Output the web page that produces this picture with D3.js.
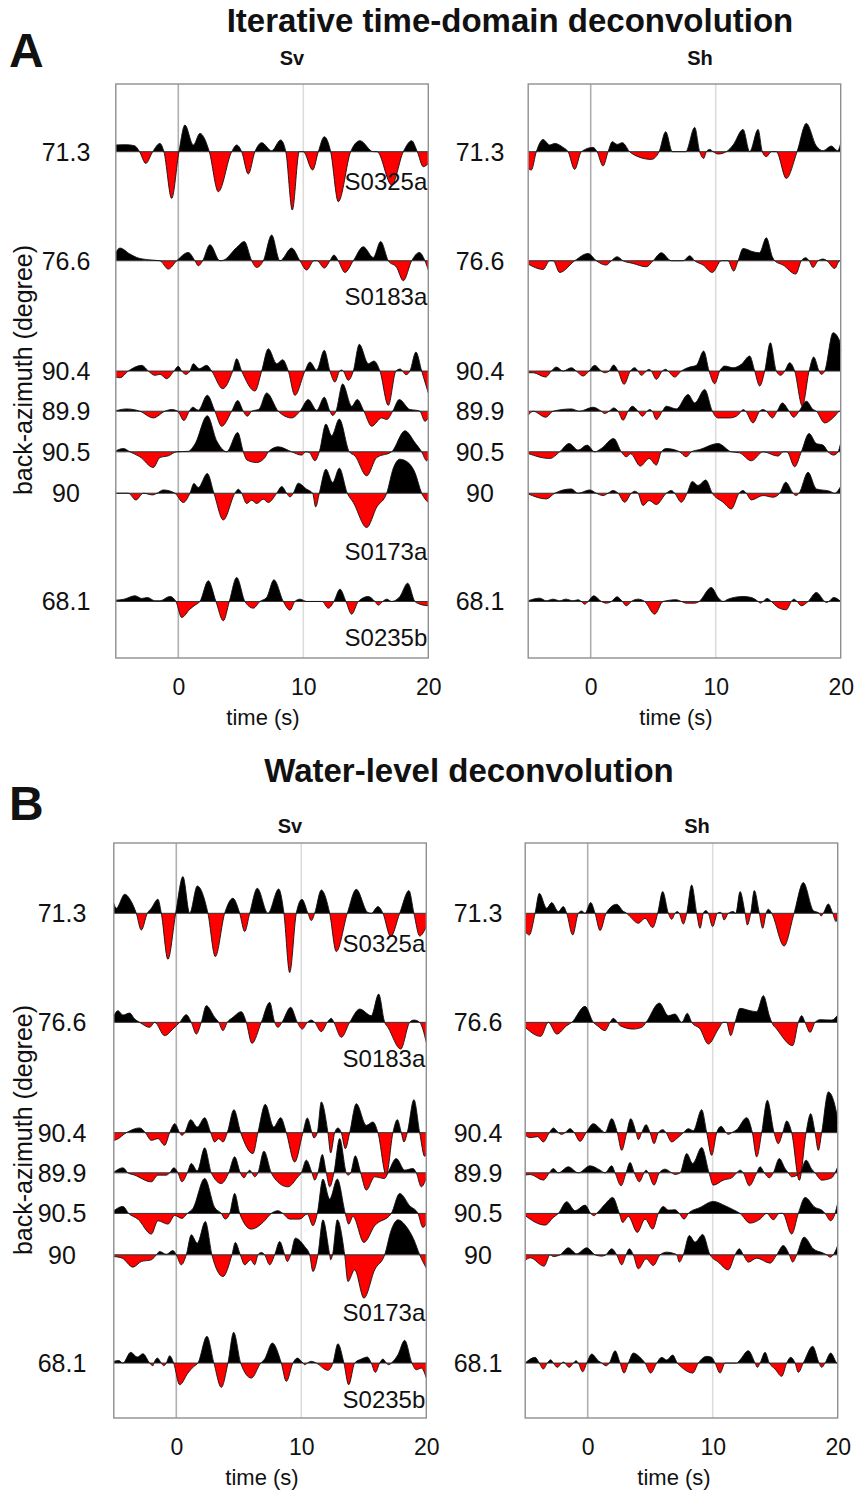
<!DOCTYPE html>
<html>
<head>
<meta charset="utf-8">
<script src="https://cdn.jsdelivr.net/npm/d3@7"></script>
<style>
  body { margin: 0; background: #fff; }
  svg text { font-family: "Liberation Sans", Arial, Helvetica, sans-serif; fill: #111; }
</style>
</head>
<body>
<div id="main"></div>
<script>
// ---- data ----
const timeDomain = [-5, 20];
const timeTicks = [0, 10, 20];
const traceSlots = [0, 2.66, 5.35, 6.33, 7.32, 8.33, 10.97];
const backAzimuths = ["71.3", "76.6", "90.4", "89.9", "90.5", "90", "68.1"];
const stationNames = ["S0325a", "S0183a", "S0173a", "S0235b"];
const stationTrace = [0, 1, 5, 6];
const methodTitles = ["Iterative time-domain deconvolution", "Water-level deconvolution"];
const panelLetters = ["A", "B"];
const componentNames = ["Sv", "Sh"];

// traces: flat lists of time (s), amplitude
const itdSv1 = [-5,6.7, -4.2,7, -3.5,6, -3.1,0, -2.6,-11.7, -2.05,0, -1.47,8.3, -1.15,0, -0.53,-46.7, 0.05,0, 0.53,26.7, 1.2,6.7, 1.73,18.3, 2.48,0, 3.2,-40, 4.27,0, 4.67,6.7, 5.07,0, 5.6,-22.3, 6.13,0, 6.67,9, 7.47,1, 8.19,11.7, 8.6,0, 9.12,-58.3, 9.68,0, 10,0, 10.75,-18.3, 11.2,0, 11.68,15, 12.19,0, 12.8,-50, 13.79,0, 14.53,11, 15.6,0, 15.9,0, 17.07,-33.3, 18,0, 18.67,11, 19.12,0, 19.6,-15, 20,-11.7];
const itdSv2 = [-5,8.3, -4.67,12.7, -3.87,6.7, -3.33,3.3, -2.4,1, -1.47,0, -0.8,-8.3, -0.13,0, 0.8,8.3, 1.33,0, 1.6,-5, 1.95,0, 2.53,16, 3.33,0, 3.6,0.5, 4.67,13.3, 5.28,19.3, 5.87,0, 6.27,-6.7, 6.8,0, 7.47,25.7, 8.13,0, 9.07,12.7, 9.73,0, 10.27,-9.3, 10.85,0, 11.1,0, 11.68,-7.3, 12.13,0, 12.45,5.7, 12.8,0, 13.33,-11.7, 14,0, 14.8,14, 15.6,3.3, 16.19,19.3, 16.8,0, 17.47,-6.7, 18,-20, 18.67,0, 19.28,8.3, 19.73,0, 20,-9.3];
const itdSv3 = [-5,-6, -4.67,-6.7, -4,0, -2.93,5.7, -2.4,0, -1.87,-4.3, -1.47,-3.3, -0.93,-7.7, -0.35,0, 0,4.7, 0.27,0, 0.61,-3.3, 0.93,0, 1.2,7.3, 1.68,2.3, 2.27,5.7, 2.67,0, 3.55,-17.7, 4.35,0, 4.67,12.3, 5.07,0, 6.13,-20, 6.67,0, 7.2,22.3, 7.87,7.3, 8.35,11.3, 8.8,0, 9.33,-24.3, 10.13,0, 10.53,9, 11.07,1, 11.68,20.7, 12.13,0, 12.53,-11, 12.9,0, 13.05,1, 13.2,0, 13.6,-9.3, 14,0, 14.48,26.7, 15.2,7.3, 15.65,10, 16.13,0, 16.8,-34.3, 17.41,0, 17.75,2, 17.95,0, 18.21,-3.7, 18.53,0, 19.01,19, 19.47,0, 20,-22];
const itdSv4 = [-5,0.5, -4.13,2.3, -3.07,0, -2,-6.7, -1.07,0, -0.53,1.7, -0.05,0, 0.45,-9.3, 0.88,0, 1.15,4, 1.6,1, 2.32,16, 2.93,0, 3.47,-15, 4.27,0, 4.75,10.7, 5.2,0, 5.52,-5, 5.87,0, 6.45,2, 7.07,18.3, 8,0, 9.07,-6.7, 9.73,0, 10.4,11.7, 11.07,1, 11.68,14, 12.13,0, 12.35,-4.3, 12.61,0, 13.15,27.3, 13.87,5, 14.32,11.7, 14.85,0, 15.47,-15, 16.27,-6.7, 16.67,-8.3, 17.15,0, 17.68,11.7, 18.53,1.7, 19,1, 19.33,0, 19.73,-10, 20,-6.7];
const itdSv5 = [-5,1, -4.4,3.3, -3.87,0, -3.07,-5, -2,-15.7, -1.47,-5.7, -0.8,-4, -0.13,0, 0.8,0.5, 1.33,7.7, 2.32,36, 3.07,11, 3.6,1.7, 3.87,0, 4.75,19.3, 5.2,0, 5.5,-8.3, 6.27,-10.7, 6.93,-5.7, 7.2,0, 8,5, 9.07,0, 9.87,-3.3, 10.2,0, 10.5,-1, 10.93,-9, 11.28,0, 11.81,27.7, 12.27,16, 12.88,32.7, 13.68,0, 14.13,-4, 15.07,-24, 15.87,-5.7, 17.07,0, 18.13,21, 18.93,9.3, 19.47,0, 19.87,-9, 20,-7];
const itdSv6 = [-5,0, -4,0, -3.39,-6.7, -2.8,0, -2.05,-1.7, -1.7,0, -1.2,3.3, -0.27,0, 0.4,-9.3, 0.93,0, 1.25,9.7, 1.6,5.7, 2.32,19.7, 2.85,0, 3.6,-26.7, 4.53,0, 4.8,4, 5.07,0, 5.47,-10.3, 5.87,-7, 6.27,-10.3, 6.8,-6, 7.2,-9.3, 7.87,0, 8.27,6.7, 8.67,0, 8.93,-3.7, 9.2,0, 9.6,10, 10.27,4, 10.75,0, 10.99,-13.7, 11.28,0, 11.81,24, 12.35,10.7, 12.88,25, 13.52,0, 14,-9.3, 15.07,-34.3, 15.87,-14, 16.67,0, 17.2,25, 17.7,34, 18.27,31.7, 18.93,20.7, 19.47,0, 20,-9.3];
const itdSv7 = [-5,1.3, -4.33,2.3, -3.47,5.7, -2.93,3, -2.48,4, -1.87,0.7, -1.47,0.7, -0.67,5, -0.19,0, 0.27,-16, 0.93,-7.7, 1.33,-3.7, 1.73,0, 2.4,20.7, 3.01,0, 3.6,-19.3, 4.08,0, 4.67,24, 5.33,0, 6,-6.7, 6.53,0, 7.07,4, 7.65,21.7, 8.4,0, 8.93,-8.7, 9.33,0, 9.73,2.3, 10.27,0, 11.5,0, 12,-6.7, 12.45,0, 12.93,12.3, 13.41,0, 13.87,-12.7, 14.4,0, 15.2,5, 15.73,0, 16,-3.7, 16.35,0, 16.67,2.3, 17.07,0, 17.73,5, 18.35,18.3, 18.93,0, 19.33,-2.7, 20,-4.3];

const itdSh1 = [-5,-16.7, -4.75,-18.3, -4.35,0, -3.81,12.3, -3.28,6.7, -2.88,8.3, -2.21,4.3, -1.81,0, -1.28,-17.7, -0.75,0, 0.19,4.3, 0.51,0, 0.99,-14.3, 1.39,0, 1.73,10, 2.11,7.3, 2.53,9, 3.12,0, 3.79,-5, 4.85,-7.7, 5.47,0, 6,20, 6.53,0, 7.6,0, 8.32,24.3, 8.72,0, 9.04,-6.7, 9.25,0, 9.52,2.3, 9.8,0, 10.19,-2.3, 10.85,0, 11.39,6.7, 12.19,22.3, 12.72,0, 13.39,22.3, 13.73,0, 14.05,-5, 14.45,0, 14.85,0, 15.65,-26.7, 16.51,0, 17.25,28.3, 18.05,5.7, 18.6,1, 19.25,5.7, 19.75,1, 20,8.3];
const itdSh2 = [-5,-3.3, -3.81,-8.7, -3.28,0, -3,0, -2.48,-11.7, -1.28,0, -0.21,7.3, 0.45,0, 1.25,-4.3, 1.65,0, 2.11,4, 2.59,0, 3.39,-2.7, 4.45,-6, 4.99,0, 5.65,8, 6.45,0, 7.4,0, 7.92,5, 8.32,0, 9,-4.3, 9.73,-11.7, 10.45,0, 10.98,0, 11.44,-10.3, 11.79,0, 12.19,12.3, 12.99,9, 13.5,8, 14.05,23, 14.53,4, 14.72,0, 15.39,-4.3, 16.4,-13.3, 16.85,0, 17.2,3, 17.47,0, 17.79,-6.7, 18.19,0, 18.6,1.7, 18.9,0, 19.52,-7.7, 19.92,0, 20,0];
const itdSh3 = [-5,-1.7, -4.6,-1.7, -3.6,-6, -3.15,0, -2.75,4, -2.21,0, -1.55,3.3, -1.15,0, -0.61,-5, -0.13,0, 0.32,5.7, 0.85,0, 1.12,-1.7, 1.47,0, 1.84,6, 2.19,0, 2.67,-13.3, 3.17,0, 3.52,3.3, 3.79,0, 4.05,-4.3, 4.45,0, 4.67,1.7, 4.85,0, 5.25,-8.3, 5.73,0, 6,1.7, 6.19,0, 6.72,-6, 7.25,0, 7.92,4, 8.45,5.7, 9.04,20, 9.47,0, 9.92,-12.7, 10.32,0, 10.72,5, 11.39,3.3, 12.05,6.7, 12.72,15, 13.12,0, 13.52,-15, 13.92,0, 14.37,28.3, 14.85,0, 15.2,-4.3, 15.52,0, 15.92,8.3, 16.32,0, 16.93,-35, 17.47,0, 17.84,14, 18.27,0, 18.45,-3.3, 18.72,0, 19.39,38.3, 19.92,30, 20,20];
const itdSh4 = [-5,-4, -4.6,0, -3.6,-6, -3.01,0, -1.55,2.3, -0.9,0, 0.19,4, 0.85,0, 1.12,-2.3, 1.47,0, 1.84,3.3, 2.19,0, 2.59,-9, 2.99,0, 3.33,5, 3.79,0, 4.13,-5, 4.51,0, 4.72,1.7, 4.93,0, 5.25,-8.3, 5.73,0, 6.05,5, 6.85,2.3, 7.79,16.7, 8.32,8.3, 9.12,21.7, 9.73,0, 10.19,-6.7, 11.12,-6.7, 11.65,-5, 12.05,0, 12.19,1.7, 12.4,0, 12.99,-11.7, 13.52,0, 13.79,1.7, 14.05,0, 14.53,-6.7, 14.91,0, 15.33,8.3, 15.87,0, 16.24,-6, 16.67,0, 17.25,10, 17.79,1.7, 18.05,0, 18.72,-11.7, 19.52,-5, 19.92,0, 20,0];
const itdSh5 = [-5,-1.7, -3.28,-6.7, -2.48,0, -1.73,8.3, -1.01,1.7, -0.29,6.7, 0.32,0, 0.85,3.3, 1.84,13.3, 2.45,0, 2.85,-5, 3.2,-2, 3.97,-14.3, 4.67,-6.7, 5.25,-13.3, 5.65,0, 6.05,3.3, 7.12,0, 7.65,-5, 8.05,0, 8.72,2.3, 10.19,8.3, 11.25,0, 11.9,-1, 12.85,-9, 13.79,0, 14.99,-4.3, 15.4,0, 15.7,0, 16.32,-15, 16.85,0, 17.47,18.3, 18.05,8.3, 18.59,6.7, 18.99,0, 19.44,-3.3, 19.79,0, 20,9];
const itdSh6 = [-5,-0.7, -3.55,-5.7, -2.88,0, -1.55,4.3, -1.01,0, -0.08,3.3, 0.45,0, 0.99,-2.3, 1.39,0, 1.79,2.7, 2.19,0, 2.72,-9, 3.25,0, 3.52,2, 3.79,0, 4.19,-12.3, 4.67,-7.3, 5.25,-11.3, 6.05,0, 6.45,2.7, 6.72,0, 7.25,-9, 7.71,0, 8.13,11.7, 8.59,7.7, 9.2,13.3, 9.73,0, 10.59,-9, 11.25,-15.7, 11.87,0, 12.19,2.7, 12.45,0, 12.85,-6.7, 13.79,-2.3, 14.59,-4, 15.12,0, 15.6,11, 16.19,0, 16.4,-2.3, 16.67,0, 17.39,21, 18.05,4.3, 19.12,2, 19.52,0, 20,7];
const itdSh7 = [-5,0.7, -4.08,3.3, -3.55,0.7, -3.01,2.3, -2.48,0.7, -2,2.3, -1.41,0.7, -1.01,1.7, -0.75,0, -0.48,-2.7, -0.21,0, 0.24,5.7, 0.85,0, 1.25,-1.7, 1.65,0, 2.11,4.7, 2.53,0, 2.85,-4.3, 3.25,0, 3.79,2.3, 4.32,0, 5.12,-12.7, 5.79,0, 6.85,1.7, 7.25,0, 7.65,-1.7, 8.32,-1.7, 8.67,0, 9.65,14, 10.19,4, 10.59,0, 10.99,2.3, 12.19,5, 12.85,4, 13.39,0, 13.57,-1.7, 13.79,0, 14.11,3, 14.45,0, 14.99,-6, 15.65,-8.3, 16.05,0, 16.24,2.3, 16.51,0, 16.85,-4.3, 17.39,0, 18.05,9, 18.72,0, 18.85,-1, 19.05,0, 19.44,4, 20,0];

const wlSv1 = [-5,10, -4.8,5, -4.13,19, -3.6,11.7, -3.2,0, -2.8,-16.7, -2.32,0, -2,5, -1.47,14, -1.2,0, -0.67,-46, -0.05,0, 0.53,36.7, 1.07,0, 1.68,27.3, 2.53,0, 3.12,-43.3, 3.87,0, 4.53,15, 5.07,0, 5.47,-18.3, 5.87,0, 6.48,25, 7.33,0, 8.19,24.3, 8.61,0, 9.07,-59.3, 9.6,0, 10.05,14, 10.53,0, 10.8,-7.3, 11.07,0, 11.6,23.3, 12.27,0, 12.8,-38.3, 13.68,0, 14.4,24, 15.3,1, 15.6,0, 16.13,6.7, 16.53,0, 17.15,-23.3, 17.87,0, 18.61,22.7, 19.01,0, 19.47,-22.7, 20,-13.3];
const wlSv2 = [-5,6.7, -4.67,11.7, -4.27,7.3, -3.73,9.3, -3.33,3.3, -2.93,0, -2.13,-5, -1.73,0, -0.93,-13.3, -0.27,-6.7, 0.27,0, 0.8,7.7, 1.2,0, 1.6,-11.7, 2,0, 2.4,16.7, 3.07,5, 3.39,0, 3.73,-8.3, 4.08,0, 4.53,5, 5.2,10.7, 5.6,0, 6.05,-21, 6.8,0, 7.47,20, 7.87,0, 8.13,-5, 8.45,0, 9.15,15, 9.68,0, 10.08,-6.7, 10.48,0, 10.8,2.3, 11.07,0, 11.6,-9.3, 12.08,0, 12.4,4, 12.61,0, 13.2,-15, 13.87,0, 14.67,13.3, 15.6,6.7, 16.19,28.3, 16.67,0, 16.93,-5, 17.95,-26.7, 18.67,0, 19.01,2.3, 19.47,0, 20,-20];
const wlSv3 = [-5,-7.7, -4.8,-7, -4,0, -2.93,4.7, -2.48,0, -2,-7.7, -1.47,-6, -0.93,-12.7, -0.53,0, -0.13,9, 0.27,0, 0.45,-2.7, 0.67,0, 1.15,13, 1.68,5.7, 2.27,15, 2.75,0, 3.07,-9.3, 3.4,-6, 3.73,-9.3, 4.08,0, 4.61,23, 5.15,0, 6.13,-21, 6.53,0, 7.12,28.3, 7.79,5.7, 8.35,15, 8.8,0, 9.47,-29.3, 10.13,0, 10.48,14.7, 10.85,0, 11.01,-5.3, 11.28,0, 11.6,30.7, 12.13,0, 12.35,-20.3, 12.67,0, 12.93,4.7, 13.2,0, 13.52,-16, 13.87,0, 14.4,29, 15.2,7.3, 15.73,10.7, 16.13,0, 16.8,-42.7, 17.33,0, 17.68,13, 18,0, 18.21,-9.3, 18.48,0, 19.01,33, 19.47,0, 19.87,-23.7, 20,-20];
const wlSv4 = [-5,0.5, -4.27,5, -3.87,0, -3.33,-2.3, -2,-9, -1.47,-2.3, -0.8,-2.3, -0.53,0, -0.19,5, 0.13,0, 0.45,-9, 0.88,0, 1.2,9.3, 1.68,2, 2.27,25, 2.8,0, 3.6,-10.7, 4.19,0, 4.67,16, 5.12,0, 5.41,-5, 5.68,0, 5.87,2.7, 6.05,0, 6.27,-4, 6.53,0, 7.01,21.7, 7.6,0, 7.87,-5.7, 8.93,-14, 9.73,-4, 10,0, 10.4,12.7, 10.85,0, 11.07,-7.3, 11.33,0, 11.68,18.3, 12,0, 12.27,-14, 12.61,0, 13.07,34.3, 13.6,0, 13.73,-2.3, 13.95,0, 14.32,17, 14.75,0, 15.2,-17.3, 15.87,-4, 16.67,-5.7, 16.93,0, 17.6,14.3, 18.27,2.7, 18.93,4.3, 19.2,0, 19.6,-14, 20,-5];
const wlSv5 = [-5,2.7, -4.27,7, -3.81,0, -3.07,-5.7, -2,-20.7, -1.47,-7.3, -0.67,-10.7, -0.13,-2, 0.45,-5, 0.88,0, 1.33,5, 2.27,35, 3.07,6, 3.6,0, 3.92,-5.7, 4.27,0, 4.67,20, 5.07,0, 6,-15.7, 6.93,-9, 7.6,0, 8.13,2.7, 8.53,0, 9.07,-5.7, 9.87,-5.7, 10.48,-0.5, 10.93,-12.3, 11.28,0, 11.73,34.3, 12.27,14.3, 12.88,34.3, 13.52,0, 13.79,-10.7, 14.13,-3, 15.01,-29, 15.87,-12.3, 17.2,0, 17.87,20, 18.67,7.7, 19.33,0, 19.73,-14, 20,-10];
const wlSv6 = [-5,-1.7, -4.33,-3.3, -3.47,-12.3, -2.8,-6.7, -2,-5, -1.6,0, -1.33,3.3, -0.8,0.5, -0.27,4.3, 0,0, 0.4,-10, 0.8,0, 1.2,20, 1.68,11.7, 2.32,33.3, 2.85,0, 3.73,-21.7, 4.45,0, 4.72,12.3, 5.12,0, 5.47,-10, 5.95,-5, 6.27,-10, 6.53,0, 6.8,2.3, 7.07,0, 7.47,-10, 7.87,0, 8.27,13.3, 8.67,0, 8.88,-6.7, 9.15,0, 9.52,16.7, 10.27,8.3, 10.67,0, 10.93,-16.7, 11.33,0, 11.73,35, 12.27,0, 12.35,-5, 12.5,0, 12.88,35, 13.47,0, 13.73,-26.7, 14.27,-15, 15.01,-43.3, 15.87,-15, 16.67,0, 17.2,25, 17.73,35, 18.4,28.3, 19.01,15, 19.47,0, 20,-13.3];
const wlSv7 = [-5,1.7, -4.6,2.5, -4.27,0, -3.65,10.7, -3.12,6, -2.67,9.3, -2.13,0, -1.87,-2.7, -1.79,0, -1.52,5, -1.2,0, -1,-2.7, -0.8,0, -0.53,7.3, -0.21,0, 0.27,-21.7, 0.93,-10, 1.41,-3.3, 1.73,0, 2.45,26.7, 3.01,0, 3.6,-24.3, 4.13,0, 4.59,30.7, 5.15,0, 6,-15, 6.75,0, 7.07,4, 7.68,20, 8.4,0, 8.8,-18.3, 9.33,0, 9.68,5, 10.13,0, 10.27,-1.7, 10.48,0, 10.8,1.7, 11.2,0, 12.13,-7.3, 12.53,0, 12.93,19.3, 13.41,0, 13.79,-21.7, 14.27,0, 14.8,4, 15.28,6, 15.6,0, 15.92,-9.3, 16.27,0, 16.53,4, 16.8,0, 17,-1.7, 17.2,0, 17.73,8.3, 18.27,22.7, 18.85,0, 19.2,-6.7, 19.6,-5, 20,-15];

const wlSh1 = [-5,-18.3, -4.67,-21.7, -4.21,0, -3.87,20, -3.28,5, -2.88,10.7, -2.35,1.7, -1.95,6.7, -1.68,0, -1.2,-21.7, -0.75,0, -0.48,2.3, -0.21,0, 0.24,10.7, 0.59,0, 0.99,-17.3, 1.47,0, 2.32,9, 2.85,2, 3.12,0, 3.39,-3.3, 4.05,-10, 4.59,-5, 5.2,-14.3, 5.6,0, 6,21.7, 6.45,0, 6.72,-6, 6.99,0, 7.15,1.7, 7.33,0, 7.65,-10.7, 7.92,0, 8.32,28.3, 8.72,0, 8.99,-15, 9.25,0, 9.44,2.7, 9.65,0, 10,-13.3, 10.37,0, 10.59,1, 10.72,0, 10.91,-6.7, 11.25,0, 11.65,1.7, 11.85,0, 12.19,21.7, 12.59,0, 12.77,-11.7, 13.04,0, 13.33,22.7, 13.73,0, 14,-15, 14.27,0, 14.45,4, 14.72,0, 15.71,-32.7, 16.51,0, 17.25,30.7, 18.05,2.7, 18.53,0, 18.67,-2.7, 18.85,0, 19.25,9.3, 19.6,0, 19.87,-8.3, 20,0];
const wlSh2 = [-5,-5, -3.76,-14, -3.15,0, -2.48,-11.7, -1.68,-3.3, -1.28,0, -0.21,16, 0.45,0, 0.77,-3.3, 1.39,-8.3, 1.79,0, 2.05,4, 2.37,0, 2.59,-3.3, 3.65,-6.7, 4.32,-5, 4.67,0, 5.73,19.3, 6.45,6.7, 6.99,8.3, 7.52,0, 7.97,9, 8.32,0, 8.99,-6.7, 9.65,-21.7, 10.45,-6.7, 10.85,0, 11.1,0, 11.44,-13.3, 11.79,0, 12.19,14, 12.99,11.7, 13.52,10.7, 14.05,26.7, 14.53,6.7, 14.72,0, 15.12,-6.7, 16.4,-23.3, 16.85,0, 17.12,6.7, 17.39,0, 17.79,-10, 18.19,0, 18.59,2.7, 19.52,2.3, 20,7.3];
const wlSh3 = [-5,-2.7, -4.6,-5, -4,-4, -3.55,-9.3, -3.07,0, -2.75,4.7, -2.35,0, -2.08,-1.7, -1.81,0, -1.41,4, -1.07,0, -0.61,-8.7, -0.13,0, 0.45,9, 0.99,4, 1.39,0, 1.92,14, 2.37,0, 2.72,-17.7, 3.12,0, 3.44,14, 3.87,0, 4.05,-7, 4.32,0, 4.67,8, 4.99,0, 5.31,-11, 5.65,0, 6,3, 6.27,0, 6.72,-9.3, 7.12,-6, 7.65,0, 8.05,4, 8.45,2, 9.12,23, 9.52,0, 9.92,-22.7, 10.32,0, 10.67,6.3, 11.07,0, 11.25,-1.7, 11.52,0, 11.92,3, 12.72,15, 13.17,0, 13.52,-24.3, 13.92,0, 14.37,32.3, 14.91,0, 15.25,-11, 15.6,0, 15.92,11.7, 16.32,0, 16.93,-47.7, 17.47,0, 17.84,19, 18.19,0, 18.45,-17.7, 18.72,0, 19.25,40.7, 19.92,19, 20,10];
const wlSh4 = [-5,-2.3, -4.6,-1.7, -3.55,-7.3, -3.07,0, -2.75,4.3, -2.35,0, -1.55,6, -0.75,0, 0.19,7, 0.99,2.7, 1.39,0, 1.92,7, 2.19,0, 2.67,-13, 3.07,0, 3.39,10.3, 3.73,0, 4.13,-9, 4.51,0, 4.67,2.7, 4.85,0, 5.31,-12.3, 5.73,0, 6.19,3.7, 6.72,0, 7,-1.7, 7.39,0, 7.92,19.3, 8.4,9.3, 9.12,25.3, 9.71,0, 10.05,-12.3, 10.85,-7.3, 11.52,-5, 11.92,0, 12.19,2.7, 12.45,0, 12.93,-13, 13.52,0, 13.79,6, 14.13,0, 14.53,-5, 14.85,0, 15.33,14.3, 15.79,4.3, 16.05,0, 16.32,-4, 16.99,0, 17.47,12.7, 17.92,3.7, 18.19,0, 18.72,-7.3, 19.52,-5, 19.79,0, 20,6];
const wlSh5 = [-5,-2.3, -3.41,-11.7, -2.75,-4, -2.35,0, -1.68,11.7, -1.01,2.7, -0.21,8.3, 0.24,0, 0.51,-2.3, 0.72,0, 1.39,9.3, 2,16, 2.53,0, 2.8,-9, 3.25,-3, 3.97,-19, 4.59,-5.7, 5.2,-15.7, 5.65,0, 6.05,7, 6.45,3.3, 6.99,3.7, 7.33,0, 7.71,-5.7, 8.05,0, 8.99,6, 10.05,12, 10.99,7.7, 11.65,3.7, 12.19,0, 12.99,-9.7, 13.79,-5.7, 14.32,0, 14.85,-6.3, 15.33,0, 15.6,0, 16.32,-20.7, 16.85,0, 17.39,16, 18.19,6, 18.72,3.3, 18.99,0, 19.44,-7.3, 19.79,0, 20,10.3];
const wlSh6 = [-5,-5.7, -4.6,-3, -3.49,-11.3, -3.01,0, -2.75,-1.7, -2.21,0, -1.55,7, -0.88,1, -0.08,7, 0.59,0, 1.12,-1.3, 1.45,0, 1.92,6, 2.32,0, 2.72,-10, 3.07,0, 3.33,6, 3.65,0, 4.05,-14, 4.67,-4, 5.25,-10.7, 5.79,0, 6.32,2.7, 6.85,1.5, 7.12,0, 7.33,-7.3, 7.65,0, 8.13,19.3, 8.59,12.7, 9.2,20.3, 9.79,0, 10.45,-7.3, 11.25,-15, 11.79,0, 12.13,6, 12.45,0, 12.85,-7.3, 13.52,-3.3, 14.59,-8.3, 15.12,0, 15.65,9.3, 16.13,0, 16.4,-7.3, 16.72,0, 17.31,17.7, 18.05,6, 18.85,1.7, 19.12,0, 19.39,-2.3, 19.65,0, 20,9.3];
const wlSh7 = [-5,0, -4.21,5.7, -3.87,0, -3.55,-6, -3.23,0, -2.96,3.3, -2.75,0, -2.43,-4.3, -2.08,0, -1.95,1, -1.47,-4.3, -1.15,0, -0.93,2.3, -0.75,0, -0.4,-8.7, -0.08,0, 0.32,9, 0.85,2.3, 1.12,0, 1.47,-2.7, 1.73,0, 2.19,12.3, 2.59,0, 2.91,-10, 3.25,0, 3.65,10, 4.32,4, 4.59,0, 5.04,-10, 5.52,0, 5.92,5.7, 6.32,3, 6.8,8, 7.17,0, 7.52,-4.3, 8.4,-10, 8.85,0, 9.52,6.7, 9.92,5.7, 10.19,0, 10.59,-10, 10.99,0, 11.92,0, 12.19,3.3, 12.85,12.3, 13.39,0, 13.57,-4.3, 13.79,0, 14.19,10.7, 14.53,0, 14.99,-6, 15.52,-13.3, 15.92,0, 16.24,5.7, 16.59,0, 16.85,-9.3, 17.25,0, 18,16.7, 18.51,0, 18.72,-4.3, 18.99,0, 19.44,10, 19.92,0, 20,-1];

const itdSv = [itdSv1, itdSv2, itdSv3, itdSv4, itdSv5, itdSv6, itdSv7];
const itdSh = [itdSh1, itdSh2, itdSh3, itdSh4, itdSh5, itdSh6, itdSh7];
const wlSv = [wlSv1, wlSv2, wlSv3, wlSv4, wlSv5, wlSv6, wlSv7];
const wlSh = [wlSh1, wlSh2, wlSh3, wlSh4, wlSh5, wlSh6, wlSh7];

// ---- layout ----
const CONFIG = {
  width: 855,
  height: 1490,
  panelWidth: 312.5,
  slotPx: 41,
  font: "'Liberation Sans', Arial, Helvetica, sans-serif",
  colors: { pos: "#000", neg: "#ff0000", frame: "#8f8f8f", grid0: "#b0b0b0", grid10: "#dcdcdc", base: "#333" },
  stationDy: [30, 36, 58, 36]
};

const figures = [
  { title: methodTitles[0], letter: panelLetters[0], titleX: 510, titleY: 20, letterY: 50,
    top: 84, bottom: 658, base: 151.7, headY: 58, yLabelY: 370,
    comps: [
      { name: componentNames[0], traces: itdSv, left: 115.8, tickX: 66, headX: 292, timeX: 263, stations: true },
      { name: componentNames[1], traces: itdSh, left: 528.2, tickX: 480, headX: 700, timeX: 676, stations: false }
    ] },
  { title: methodTitles[1], letter: panelLetters[1], titleX: 469, titleY: 770, letterY: 803,
    top: 843, bottom: 1418, base: 913.3, headY: 826, yLabelY: 1130,
    comps: [
      { name: componentNames[0], traces: wlSv, left: 113.8, tickX: 62, headX: 290, timeX: 262, stations: true },
      { name: componentNames[1], traces: wlSh, left: 525.2, tickX: 478, headX: 697, timeX: 674, stations: false }
    ] }
];

function toPoints(flat) {
  return d3.range(0, flat.length, 2).map(i => [flat[i], flat[i + 1]]);
}

const svg = d3.select("#main").append("svg")
  .attr("width", CONFIG.width)
  .attr("height", CONFIG.height);

const defs = svg.append("defs");
defs.append("clipPath").attr("id", "clipUp")
  .append("rect").attr("x", 0).attr("y", -400).attr("width", CONFIG.panelWidth).attr("height", 400);
defs.append("clipPath").attr("id", "clipDown")
  .append("rect").attr("x", 0).attr("y", 0).attr("width", CONFIG.panelWidth).attr("height", 400);

const x = d3.scaleLinear().domain(timeDomain).range([0, CONFIG.panelWidth]);
const amp = d3.scaleLinear().domain([0, 50]).range([0, -50]);

const area = d3.area()
  .x(d => x(d[0]))
  .y0(0)
  .y1(d => amp(d[1]))
  .curve(d3.curveMonotoneX);
const line = d3.line()
  .x(d => x(d[0]))
  .y(d => amp(d[1]))
  .curve(d3.curveMonotoneX);

figures.forEach(fig => {
  const y = d3.scaleLinear()
    .domain([0, traceSlots[traceSlots.length - 1]])
    .range([fig.base, fig.base + CONFIG.slotPx * traceSlots[traceSlots.length - 1]]);

  svg.append("text")
    .attr("x", fig.titleX).attr("y", fig.titleY)
    .attr("text-anchor", "middle").attr("dominant-baseline", "central")
    .style("font-size", "33px").style("font-weight", "bold")
    .text(fig.title);

  svg.append("text")
    .attr("x", 9).attr("y", fig.letterY)
    .attr("dominant-baseline", "central")
    .style("font-size", "48px").style("font-weight", "bold")
    .text(fig.letter);

  svg.append("text")
    .attr("transform", `translate(23,${fig.yLabelY}) rotate(-90)`)
    .attr("text-anchor", "middle").attr("dominant-baseline", "central")
    .style("font-size", "25px")
    .text("back-azimuth (degree)");

  fig.comps.forEach(comp => {
    const g = svg.append("g").attr("transform", `translate(${comp.left},0)`);

    svg.append("text")
      .attr("x", comp.headX).attr("y", fig.headY)
      .attr("text-anchor", "middle").attr("dominant-baseline", "central")
      .style("font-size", "20px").style("font-weight", "bold")
      .text(comp.name);

    // grid lines at 0 and 10 s
    g.selectAll(".grid")
      .data([0, 10])
      .join("line")
      .attr("x1", d => x(d)).attr("x2", d => x(d))
      .attr("y1", fig.top).attr("y2", fig.bottom)
      .attr("stroke", d => d === 0 ? CONFIG.colors.grid0 : CONFIG.colors.grid10)
      .attr("stroke-width", 1.6);

    // traces
    comp.traces.forEach((tr, i) => {
      const pts = toPoints(tr);
      const tg = g.append("g").attr("transform", `translate(0,${y(traceSlots[i])})`);
      tg.append("path").attr("d", area(pts))
        .attr("fill", CONFIG.colors.pos).attr("clip-path", "url(#clipUp)");
      tg.append("path").attr("d", area(pts))
        .attr("fill", CONFIG.colors.neg).attr("clip-path", "url(#clipDown)");
      tg.append("line")
        .attr("x1", 0).attr("x2", CONFIG.panelWidth)
        .attr("stroke", CONFIG.colors.base).attr("stroke-width", 1);
      tg.append("path").attr("d", line(pts))
        .attr("fill", "none").attr("stroke", "#111").attr("stroke-width", 0.9);

      svg.append("text")
        .attr("x", comp.tickX).attr("y", y(traceSlots[i]))
        .attr("text-anchor", "middle").attr("dominant-baseline", "central")
        .style("font-size", "25px")
        .text(backAzimuths[i]);
    });

    // frame
    g.append("rect")
      .attr("x", 0).attr("y", fig.top)
      .attr("width", CONFIG.panelWidth).attr("height", fig.bottom - fig.top)
      .attr("fill", "none").attr("stroke", CONFIG.colors.frame).attr("stroke-width", 1.4);

    if (comp.stations) {
      stationNames.forEach((name, k) => {
        g.append("text")
          .attr("x", CONFIG.panelWidth - 1)
          .attr("y", y(traceSlots[stationTrace[k]]) + CONFIG.stationDy[k])
          .attr("text-anchor", "end").attr("dominant-baseline", "central")
          .style("font-size", "24px")
          .text(name);
      });
    }

    // time axis
    const ax = g.append("g")
      .attr("transform", `translate(0,${fig.bottom})`)
      .call(d3.axisBottom(x).tickValues(timeTicks).tickSize(0).tickPadding(21).tickFormat(d3.format("d")));
    ax.select(".domain").remove();
    ax.selectAll("text")
      .style("font-size", "23px").style("font-family", CONFIG.font).attr("fill", "#111");

    g.append("text")
      .attr("x", comp.timeX - comp.left).attr("y", fig.bottom + 59)
      .attr("text-anchor", "middle").attr("dominant-baseline", "central")
      .style("font-size", "22px")
      .text("time (s)");
  });
});
</script>
</body>
</html>
